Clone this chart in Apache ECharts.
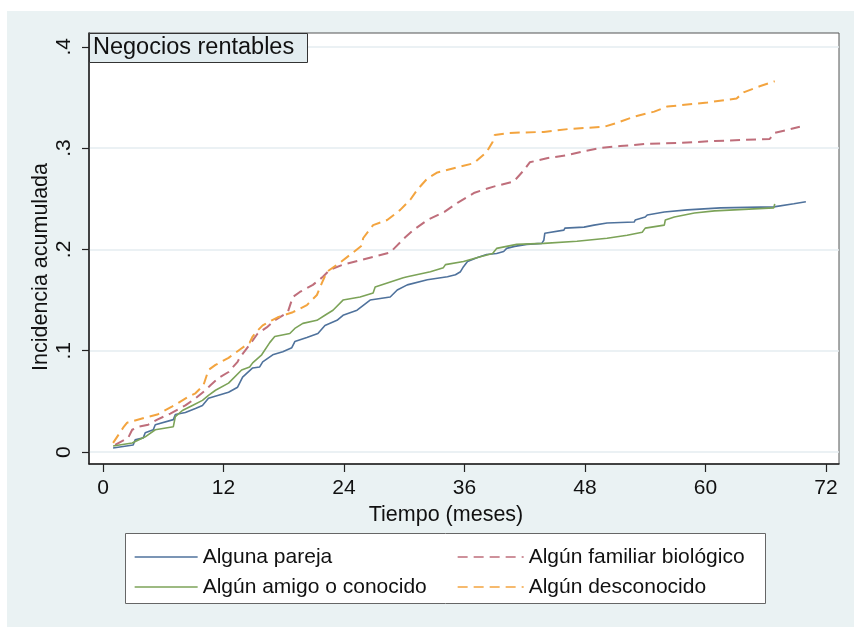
<!DOCTYPE html>
<html>
<head>
<meta charset="utf-8">
<script src="https://cdn.jsdelivr.net/npm/echarts@6/dist/echarts.min.js"></script>
<style>
html,body{margin:0;padding:0;background:#fff;}
#wrap{position:relative;width:854px;height:627px;}
#bg{position:absolute;left:7px;top:11px;right:0;bottom:0;background:#eaf2f3;}
#echart{position:absolute;left:0;top:0;width:854px;height:627px;}
</style>
</head>
<body>
<div id="wrap"><div id="bg"></div><div id="echart"></div></div>
<script>
// incidencia acumulada por tipo de socio
var mesesPareja = [1.0,3.0,3.2,4.0,4.2,5.0,5.2,7.0,7.2,8.2,9.2,9.9,10.5,11.5,12.5,13.4,13.9,14.9,15.6,15.9,16.9,17.9,18.8,19.1,20.3,21.4,22.1,23.3,23.9,25.3,26.6,28.6,29.3,30.3,32.3,34.3,35.1,35.6,35.9,36.3,37.3,38.2,39.2,39.9,40.2,41.0,42.2,43.7,43.9,44.0,45.9,46.0,47.9,48.9,50.2,52.9,53.0,54.0,54.2,55.9,58.2,61.5,66.8,68.8,70.0];
var incPareja = [0.004,0.007,0.012,0.014,0.019,0.022,0.027,0.032,0.037,0.039,0.043,0.046,0.053,0.056,0.059,0.064,0.074,0.083,0.084,0.089,0.096,0.099,0.103,0.109,0.113,0.117,0.125,0.130,0.135,0.140,0.150,0.153,0.160,0.165,0.170,0.173,0.175,0.178,0.183,0.188,0.192,0.195,0.196,0.198,0.201,0.203,0.205,0.206,0.209,0.216,0.219,0.221,0.222,0.224,0.226,0.227,0.229,0.232,0.234,0.237,0.239,0.241,0.242,0.245,0.247];

var mesesAmigo = [1.0,2.9,4.2,5.2,7.0,7.2,7.9,8.9,9.9,10.5,11.2,12.5,13.8,14.6,14.9,15.8,16.6,17.1,17.6,18.6,19.1,19.9,21.3,22.1,22.9,23.9,25.6,26.9,27.1,29.9,30.3,32.6,33.9,34.1,35.9,37.3,38.8,39.2,40.2,41.2,43.9,47.2,50.2,52.2,53.7,54.0,55.9,56.0,56.9,58.9,60.9,66.8,66.9];
var incAmigo = [0.006,0.009,0.015,0.022,0.025,0.035,0.041,0.046,0.051,0.056,0.061,0.068,0.081,0.084,0.088,0.096,0.108,0.114,0.115,0.117,0.122,0.127,0.130,0.135,0.140,0.150,0.153,0.157,0.163,0.172,0.173,0.178,0.182,0.185,0.188,0.192,0.196,0.201,0.203,0.205,0.206,0.208,0.211,0.214,0.217,0.221,0.224,0.229,0.232,0.236,0.238,0.241,0.245];

var mesesFamiliar = [1.2,2.5,2.9,3.5,4.5,5.4,6.7,8.2,9.2,10.2,10.7,11.5,12.5,13.4,13.6,14.6,15.4,16.3,17.1,18.4,18.9,19.6,20.9,21.9,22.6,23.9,25.9,28.6,29.1,30.1,30.9,32.3,34.0,35.3,37.0,38.9,40.9,41.9,42.5,44.2,46.2,47.9,49.5,51.5,53.9,57.2,60.9,66.4,66.9,69.4];
var incFamiliar = [0.007,0.014,0.022,0.025,0.027,0.032,0.038,0.046,0.053,0.061,0.066,0.073,0.079,0.089,0.093,0.106,0.117,0.123,0.130,0.138,0.153,0.158,0.165,0.173,0.180,0.185,0.190,0.197,0.202,0.212,0.219,0.229,0.237,0.246,0.256,0.262,0.267,0.278,0.286,0.290,0.293,0.297,0.300,0.302,0.304,0.305,0.307,0.309,0.315,0.321];

var mesesDesconocido = [1.0,2.0,2.4,4.2,5.4,6.9,8.4,9.2,10.0,10.5,11.2,12.5,13.6,14.6,14.9,15.4,15.9,16.8,17.4,18.9,20.3,21.3,21.8,22.3,23.6,24.9,25.8,25.9,26.9,28.3,29.6,30.6,31.3,32.3,33.3,35.3,36.9,38.2,38.8,39.0,40.5,43.9,46.5,49.9,51.2,52.9,54.9,56.2,60.2,63.1,63.8,65.4,66.9];
var incDesconocido = [0.009,0.024,0.029,0.034,0.037,0.045,0.054,0.058,0.066,0.081,0.086,0.093,0.101,0.108,0.114,0.120,0.125,0.130,0.133,0.138,0.145,0.155,0.167,0.178,0.187,0.197,0.204,0.211,0.224,0.229,0.239,0.249,0.259,0.270,0.276,0.281,0.285,0.296,0.306,0.313,0.315,0.316,0.319,0.321,0.325,0.331,0.336,0.341,0.345,0.349,0.355,0.361,0.366];

var xTicks = [0,12,24,36,48,60,72];
var yTicks = [0,0.1,0.2,0.3,0.4];
var yTickLabels = ['0','.1','.2','.3','.4'];

var fuente = 'Liberation Sans, Arial, sans-serif';

function pares(xs, ys){
	var out = [];
	for (var i = 0; i < xs.length; i++) {
		out.push([xs[i], ys[i]]);
	}
	return out;
}

function initChart(){
	var myChart = echarts.init(document.getElementById('echart'), null, {renderer:'canvas'});

	// solo la linea en la leyenda, sin simbolo
	var legendItem = {opacity: 0, borderWidth: 0};
	var legendLine = {width: 1.3};

	var option = {
		backgroundColor: 'transparent',
		animation: false,
		textStyle: {fontFamily: fuente},
		title: {
			text: 'Negocios rentables',
			left: 89, top: 33,
			padding: [3, 14, 3, 4],
			backgroundColor: '#e3edf0',
			borderColor: '#333',
			borderWidth: 1,
			textStyle: {fontFamily: fuente, fontSize: 23.5, fontWeight: 'normal', color: '#111', lineHeight: 24}
		},
		grid: {
			left: 89, right: 15, top: 33, bottom: 163,
			show: true, backgroundColor: '#fff', borderColor: '#555', borderWidth: 1
		},
		xAxis: {
			type: 'value',
			min: -1.4, max: 73.3,
			name: 'Tiempo (meses)',
			nameLocation: 'middle',
			nameGap: 38,
			nameTextStyle: {fontFamily: fuente, fontSize: 21.5, color: '#111', padding: [0, 36, 0, 0]},
			axisLine: {show: true, onZero: false, lineStyle: {color: '#222', width: 1.5}},
			axisTick: {show: true, length: 8, customValues: xTicks, lineStyle: {color: '#222', width: 1.2}},
			axisLabel: {customValues: xTicks, margin: 14, fontFamily: fuente, fontSize: 21, color: '#111'},
			splitLine: {show: false}
		},
		yAxis: {
			type: 'value',
			min: -0.0118, max: 0.4136,
			axisLine: {show: true, onZero: false, lineStyle: {color: '#222', width: 1.5}},
			axisTick: {show: true, length: 7, customValues: yTicks, lineStyle: {color: '#222', width: 1.2}},
			axisLabel: {
				customValues: yTicks, rotate: 90, margin: 14,
				fontFamily: fuente, fontSize: 21, color: '#111',
				formatter: function(v){
					for (var i = 0; i < yTicks.length; i++) {
						if (Math.abs(v - yTicks[i]) < 1e-6) return yTickLabels[i];
					}
					return '';
				}
			},
			splitLine: {show: true, customValues: yTicks, lineStyle: {color: '#e4edf0', width: 1.5}}
		},
		graphic: [
			{
				type: 'text', left: 30, top: 163, rotation: Math.PI / 2,
				style: {text: 'Incidencia acumulada', fontFamily: fuente, fontSize: 21.5, fill: '#111'}
			},
			{
				type: 'rect', left: 125, top: 533, z: -1,
				shape: {width: 640, height: 70},
				style: {fill: '#fff', stroke: '#666', lineWidth: 1}
			}
		],
		legend: [
			{
				data: ['Alguna pareja', 'Algún amigo o conocido'],
				itemStyle: legendItem, lineStyle: legendLine,
				orient: 'vertical', left: 134, top: 546,
				itemWidth: 63, itemHeight: 14, itemGap: 8, padding: 0,
				textStyle: {fontFamily: fuente, fontSize: 21, color: '#111', lineHeight: 22}
			},
			{
				data: ['Algún familiar biológico', 'Algún desconocido'],
				itemStyle: legendItem, lineStyle: legendLine,
				orient: 'vertical', left: 457, top: 546,
				itemWidth: 66, itemHeight: 14, itemGap: 8, padding: 0,
				textStyle: {fontFamily: fuente, fontSize: 21, color: '#111', lineHeight: 22}
			}
		],
		series: [
			{
				name: 'Alguna pareja', type: 'line', symbol: 'none',
				data: pares(mesesPareja, incPareja),
				itemStyle: {color: '#4f729c'},
				lineStyle: {color: '#4f729c', width: 1.6}
			},
			{
				name: 'Algún familiar biológico', type: 'line', symbol: 'none',
				data: pares(mesesFamiliar, incFamiliar),
				itemStyle: {color: '#bf6e7b'},
				lineStyle: {color: '#bf6e7b', width: 2, type: [10, 6]}
			},
			{
				name: 'Algún amigo o conocido', type: 'line', symbol: 'none',
				data: pares(mesesAmigo, incAmigo),
				itemStyle: {color: '#7ca358'},
				lineStyle: {color: '#7ca358', width: 1.6}
			},
			{
				name: 'Algún desconocido', type: 'line', symbol: 'none',
				data: pares(mesesDesconocido, incDesconocido),
				itemStyle: {color: '#f3a43f'},
				lineStyle: {color: '#f3a43f', width: 2, type: [10, 6]}
			}
		]
	};
	myChart.setOption(option);
}
initChart();
</script>
</body>
</html>
